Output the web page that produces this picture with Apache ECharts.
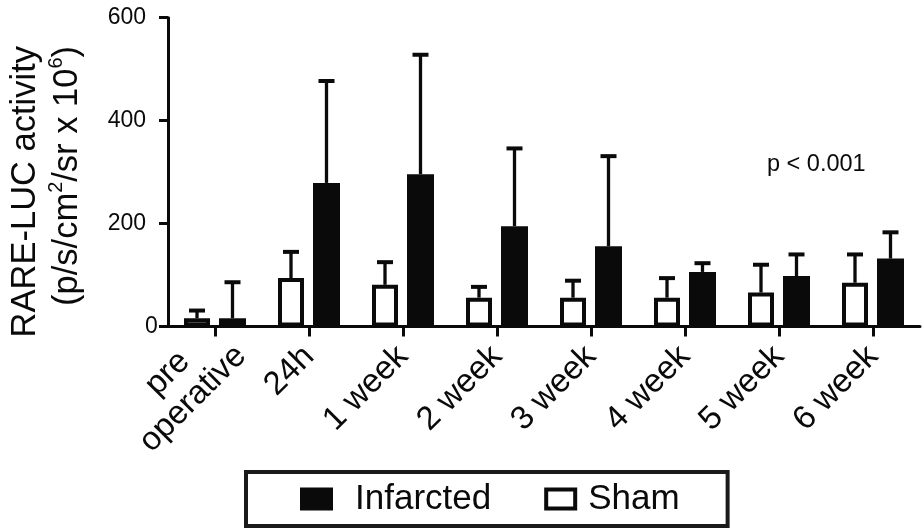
<!DOCTYPE html>
<html>
<head>
<meta charset="utf-8">
<script src="https://cdn.jsdelivr.net/npm/echarts@6/dist/echarts.min.js"></script>
<style>
  html, body { margin: 0; padding: 0; background: #fff; }
  #chart { width: 923px; height: 528px; }
</style>
</head>
<body>
<div id="chart"></div>
<script>
// ---- data ----
const categories = ['pre\noperative', '24h', '1 week', '2 week', '3 week', '4 week', '5 week', '6 week'];
const shamMean = [16, 94, 81, 56, 56, 56, 66, 85];
const shamSD   = [15, 51, 44, 21, 33, 38, 54, 55];
const infMean  = [16, 279, 296, 195, 156, 106, 98, 132];
const infSD    = [70, 198, 232, 151, 175, 17, 42, 51];
const yMin = 0, yMax = 600, yStep = 200;
const seriesNames = ['Sham', 'Infarcted'];
const pValueText = 'p < 0.001';
const yTitle = 'RARE-LUC activity\n(p/s/cm{sup|2}/sr x 10{sup|6})';

// ---- styling / layout ----
const FONT = '"Liberation Sans", Arial, Helvetica, sans-serif';
const INK = '#0a0a0a';
const SHAM_W = 26, INF_W = 27, GAP_PCT = 0.346;
// bar centre offsets relative to the category centre (same rule ECharts uses)
const totalW = SHAM_W * (1 + GAP_PCT) + INF_W;
const shamOff = -totalW / 2 + SHAM_W / 2;
const infOff = -totalW / 2 + SHAM_W * (1 + GAP_PCT) + INF_W / 2;

function errData(mean, sd) {
  return mean.map((m, i) => [i, m, m + sd[i]]);
}
function errRenderer(offset) {
  return function (params, api) {
    const i = api.value(0);
    const base = api.coord([i, api.value(1)]);
    const top = api.coord([i, api.value(2)]);
    const x = base[0] + offset;
    const capHalf = 8;
    return {
      type: 'group',
      children: [
        { type: 'line', shape: { x1: x, y1: base[1], x2: x, y2: top[1] },
          style: { stroke: INK, lineWidth: 3.3 } },
        { type: 'line', shape: { x1: x - capHalf, y1: top[1], x2: x + capHalf, y2: top[1] },
          style: { stroke: INK, lineWidth: 4 } }
      ]
    };
  };
}

const chart = echarts.init(document.getElementById('chart'), null, { renderer: 'canvas' });
const option = {
  backgroundColor: '#ffffff',
  animation: false,
  textStyle: { fontFamily: FONT, color: INK },
  grid: { left: 168, right: 3, top: 17.7, bottom: 201.5, containLabel: false, outerBoundsMode: 'none' },
  xAxis: {
    type: 'category',
    data: categories.map((c, i) => i === 0
      ? { value: c, textStyle: { align: 'center', padding: [0, 98, 0, 0] } }
      : c),
    boundaryGap: true,
    axisLine: { show: true, onZero: false, lineStyle: { color: INK, width: 3 } },
    axisTick: { show: true, alignWithLabel: true, length: 10, lineStyle: { color: INK, width: 3 } },
    axisLabel: {
      interval: 0, rotate: 45, margin: 25, fontSize: 33, lineHeight: 36,
      color: INK, fontFamily: FONT
    },
    splitLine: { show: false }
  },
  yAxis: {
    type: 'value',
    min: yMin, max: yMax, interval: yStep,
    axisLine: { show: true, lineStyle: { color: INK, width: 3 } },
    axisTick: { show: true, length: 9, lineStyle: { color: INK, width: 3 } },
    axisLabel: {
      fontSize: 23, margin: 22, color: INK, fontFamily: FONT,
      formatter: v => (v === 0 ? '{z|0}' : String(v)),
      rich: { z: { fontSize: 23, fontFamily: FONT, color: INK, width: 1, align: 'left' } }
    },
    splitLine: { show: false }
  },
  legend: {
    left: 246, top: 472,
    orient: 'horizontal',
    padding: [9.5, 48, 9.5, 54],
    itemGap: 53,
    itemWidth: 33, itemHeight: 23,
    borderColor: '#1a1a1a', borderWidth: 4,
    textStyle: { fontSize: 35, lineHeight: 34, color: INK, fontFamily: FONT },
    data: [
      { name: 'Infarcted', icon: 'rect', itemStyle: { color: INK, borderWidth: 0 },
        textStyle: { padding: [0, 0, 0, 17] } },
      { name: 'Sham', icon: 'path://M0,0H33V23H0Z M4,4V19H29V4Z', itemStyle: { color: INK, borderWidth: 0 },
        textStyle: { padding: [0, 0, 0, 6] } }
    ]
  },
  graphic: [
    {
      type: 'text', x: 46, y: 46, rotation: Math.PI / 2, silent: true,
      style: {
        text: yTitle,
        fontSize: 34.5, fontFamily: FONT, fill: INK,
        align: 'right', verticalAlign: 'middle', lineHeight: 42,
        rich: { sup: { fontSize: 20, fontFamily: FONT, fill: INK, verticalAlign: 'top', lineHeight: 32 } }
      }
    },
    {
      type: 'text', x: 767, y: 165, silent: true,
      style: { text: pValueText, fontSize: 23.5, fontFamily: FONT, fill: INK, align: 'left', verticalAlign: 'middle' }
    }
  ],
  series: [
    {
      name: seriesNames[0], type: 'bar', data: shamMean, barWidth: SHAM_W, barGap: (GAP_PCT * 100) + '%',
      itemStyle: { color: '#ffffff', borderColor: INK, borderWidth: 4 }, z: 3
    },
    {
      name: seriesNames[1], type: 'bar', data: infMean, barWidth: INF_W, barGap: (GAP_PCT * 100) + '%',
      itemStyle: { color: INK, borderWidth: 0 }, z: 3
    },
    {
      name: 'Sham SD', type: 'custom', data: errData(shamMean, shamSD),
      renderItem: errRenderer(shamOff), z: 2, silent: true
    },
    {
      name: 'Infarcted SD', type: 'custom', data: errData(infMean, infSD),
      renderItem: errRenderer(infOff), z: 2, silent: true
    }
  ]
};
chart.setOption(option);
</script>
</body>
</html>
